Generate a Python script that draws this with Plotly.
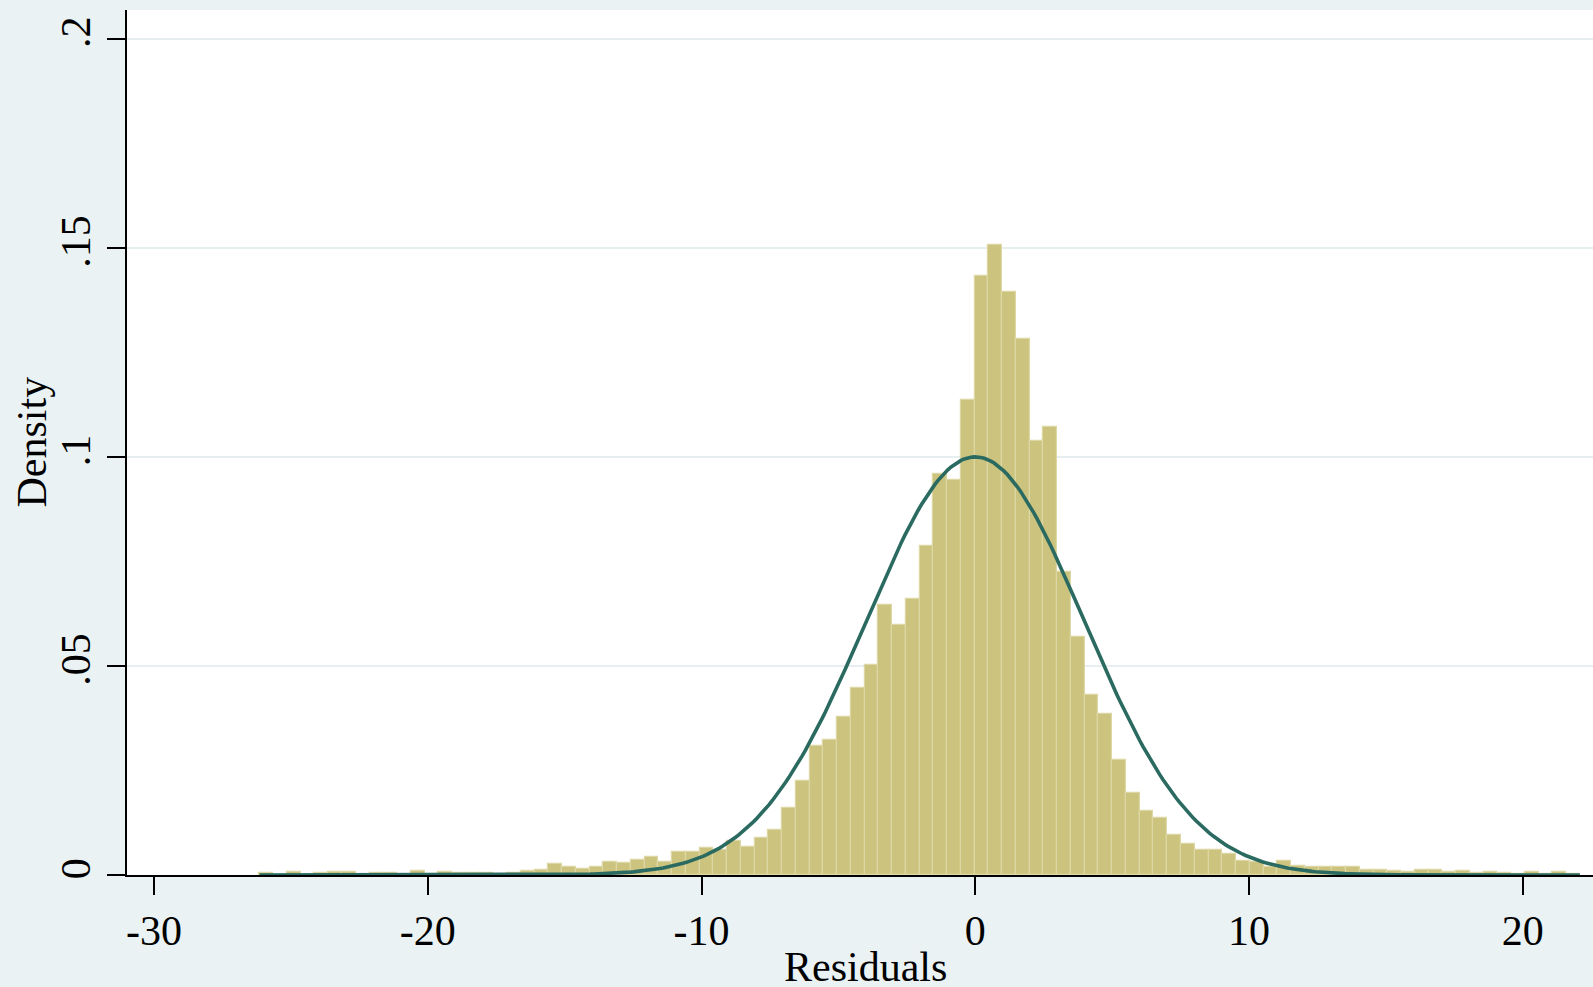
import math
import plotly.graph_objects as go

# ---- data ----
BIN_START = -26.15      # lower edge of the first bin (data minimum)
BIN_WIDTH = 0.5025      # histogram bin width
DENSITY = [
    0.0005, 0.0, 0.0006, 0.0, 0.0005, 0.0006, 0.0006, 0.0, 0.0005, 0.0004,
    0.0, 0.0009, 0.0, 0.0008, 0.0005, 0.0005, 0.0005, 0.0, 0.0005, 0.0009,
    0.0012, 0.0027, 0.0020, 0.0014, 0.0020, 0.0032, 0.0028, 0.0036, 0.0042, 0.0032,
    0.0055, 0.0055, 0.0065, 0.0059, 0.0081, 0.0067, 0.0089, 0.0107, 0.0161, 0.0224,
    0.0309, 0.0323, 0.0378, 0.0446, 0.0503, 0.0645, 0.0599, 0.0660, 0.0786, 0.0958,
    0.0944, 0.1136, 0.1433, 0.1507, 0.1393, 0.1281, 0.1037, 0.1072, 0.0725, 0.0569,
    0.0430, 0.0386, 0.0276, 0.0196, 0.0153, 0.0137, 0.0095, 0.0073, 0.0059, 0.0059,
    0.0051, 0.0034, 0.0031, 0.0018, 0.0033, 0.0021, 0.0018, 0.0018, 0.0018, 0.0018,
    0.0011, 0.0011, 0.0010, 0.0008, 0.0011, 0.0011, 0.0006, 0.0009, 0.0005, 0.0008,
    0.0005, 0.0003, 0.0006, 0.0003, 0.0006, 0.0003,
]
NORMAL_MEAN = 0.0
NORMAL_SD = 3.99
X_MIN, X_MAX = -26.15, 22.09   # range of the residuals (normal curve drawn over it)

X_TICKS = [-30, -20, -10, 0, 10, 20]
X_TICK_LABELS = ["-30", "-20", "-10", "0", "10", "20"]
Y_TICKS = [0, 0.05, 0.1, 0.15, 0.2]
Y_TICK_LABELS = ["0", ".05", ".1", ".15", ".2"]
X_TITLE = "Residuals"
Y_TITLE = "Density"

centers = [BIN_START + BIN_WIDTH * (i + 0.5) for i in range(len(DENSITY))]

n_pts = 400
curve_x = [X_MIN + (X_MAX - X_MIN) * i / (n_pts - 1) for i in range(n_pts)]
curve_y = [math.exp(-0.5 * ((v - NORMAL_MEAN) / NORMAL_SD) ** 2) / (NORMAL_SD * math.sqrt(2 * math.pi))
           for v in curve_x]

BG = "#EAF2F3"
FONT = "Liberation Serif"

fig = go.Figure()
fig.add_trace(go.Bar(
    x=centers, y=DENSITY, width=BIN_WIDTH,
    marker=dict(color="#CCC47E", line=dict(color="#DCD7A4", width=1.2)),
    hoverinfo="x+y", showlegend=False,
))
fig.add_trace(go.Scatter(
    x=curve_x, y=curve_y, mode="lines",
    line=dict(color="#2A6A60", width=3.6),
    showlegend=False,
))

fig.update_layout(
    width=1593, height=987,
    margin=dict(l=127, r=0, t=10, b=112),
    paper_bgcolor=BG, plot_bgcolor="white",
    font=dict(family=FONT, size=42, color="black"),
    bargap=0,
    annotations=[
        dict(text=X_TITLE, xref="paper", yref="paper", x=0.504, y=0,
             xanchor="center", yanchor="middle", yshift=-92, showarrow=False,
             font=dict(family=FONT, size=42, color="black")),
        dict(text=Y_TITLE, xref="paper", yref="paper", x=0, y=0.5,
             xanchor="center", yanchor="middle", xshift=-96, textangle=-90,
             showarrow=False, font=dict(family=FONT, size=42, color="black")),
    ],
)
fig.update_xaxes(
    range=[-30.99, 22.57],
    tickmode="array", tickvals=X_TICKS, ticktext=X_TICK_LABELS,
    ticks="outside", ticklen=18, tickwidth=2, tickcolor="black",
    showline=True, linecolor="black", linewidth=2,
    showgrid=False, zeroline=False,
    tickfont=dict(family=FONT, size=42),
)
fig.update_yaxes(
    range=[0, 0.20684],
    tickmode="array", tickvals=Y_TICKS, ticktext=Y_TICK_LABELS,
    tickangle=-90,
    ticks="outside", ticklen=18, tickwidth=2, tickcolor="black",
    showline=True, linecolor="black", linewidth=2,
    showgrid=True, gridcolor="#E6EEF0", gridwidth=2,
    zeroline=False,
    tickfont=dict(family=FONT, size=42),
)

fig.write_html("out.html", config={"displayModeBar": False},
               post_script="document.body.style.margin='0';document.body.style.padding='0';")
